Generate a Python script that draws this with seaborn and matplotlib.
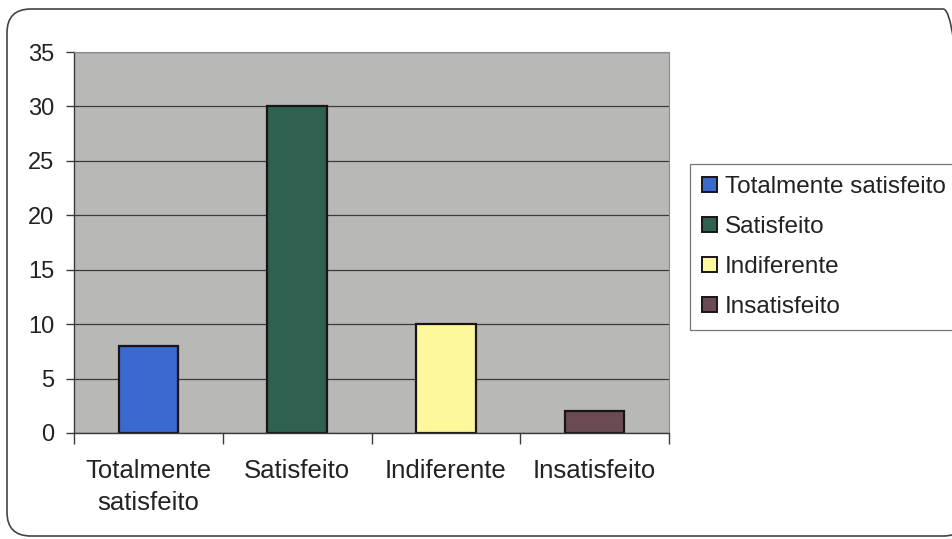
import matplotlib
matplotlib.use("Agg")
import matplotlib.pyplot as plt
import seaborn as sns
import pandas as pd
from matplotlib.patches import FancyBboxPatch, Patch

categories = ["Totalmente satisfeito", "Satisfeito", "Indiferente", "Insatisfeito"]
tick_labels = ["Totalmente\nsatisfeito", "Satisfeito", "Indiferente", "Insatisfeito"]
values = [8, 30, 10, 2]
colors = ["#3a69cf", "#2f6151", "#fdf89c", "#6b4a52"]

df = pd.DataFrame({"categoria": categories, "valor": values})

sns.set_theme(style="white")
plt.rcParams["font.family"] = ["Liberation Sans", "DejaVu Sans"]

fig = plt.figure(figsize=(9.53, 5.39), dpi=100)
ax = fig.add_axes([0.0777, 0.1967, 0.6243, 0.7068])

sns.barplot(data=df, x="categoria", y="valor", hue="categoria",
            palette=colors, saturation=1, dodge=False, width=0.4, legend=False,
            edgecolor="#1a1414", linewidth=1.6, ax=ax)

ax.set_facecolor("#b8b8b6")
ax.set_ylim(0, 35)
ax.set_xlim(-0.5, 3.5)
ax.set_yticks(range(0, 36, 5))
ax.yaxis.grid(True, color="#3a3a3a", linewidth=0.9)
ax.set_axisbelow(True)
for side in ["top", "right"]:
    ax.spines[side].set_visible(True)
    ax.spines[side].set_color("#8a8a8a")
    ax.spines[side].set_linewidth(0.8)
for side in ["left", "bottom"]:
    ax.spines[side].set_color("#3a3a3a")
    ax.spines[side].set_linewidth(1.0)

# category labels centred on bars, ticks on category boundaries
ax.set_xticks(range(len(categories)))
ax.set_xticklabels(tick_labels, fontsize=18.5, color="#222222", linespacing=1.4)
ax.set_xticks([-0.5, 0.5, 1.5, 2.5, 3.5], minor=True)
ax.tick_params(axis="x", which="major", length=0, pad=19)
ax.tick_params(axis="x", which="minor", length=8, width=1, color="#3a3a3a",
               direction="out", bottom=True)
ax.tick_params(axis="y", length=6, width=1, color="#3a3a3a", direction="out",
               left=True, labelsize=17, labelcolor="#222222", pad=8)
ax.set_xlabel("")
ax.set_ylabel("")

handles = [Patch(facecolor=c, edgecolor="#1a1414", linewidth=1.4, label=l)
           for c, l in zip(colors, categories)]
leg = fig.legend(handles=handles, loc="upper left",
                 bbox_to_anchor=(690 / 953, 1 - 164 / 539),
                 fontsize=17.5, frameon=True, fancybox=False,
                 handlelength=0.62, handleheight=0.62, handletextpad=0.3,
                 labelspacing=0.74, borderpad=0.5, borderaxespad=0)
leg.get_frame().set_edgecolor("#555555")
leg.get_frame().set_linewidth(0.9)
for t in leg.get_texts():
    t.set_color("#222222")

# rounded outer border of the chart area
border = FancyBboxPatch((7 / 953, 3 / 539), 960 / 953, 527 / 539,
                        boxstyle="round,pad=0,rounding_size=0.025",
                        transform=fig.transFigure, fill=False,
                        edgecolor="#444444", linewidth=1.2,
                        mutation_aspect=953 / 539, clip_on=False)
fig.patches.append(border)

fig.savefig("out.png", dpi=100)
